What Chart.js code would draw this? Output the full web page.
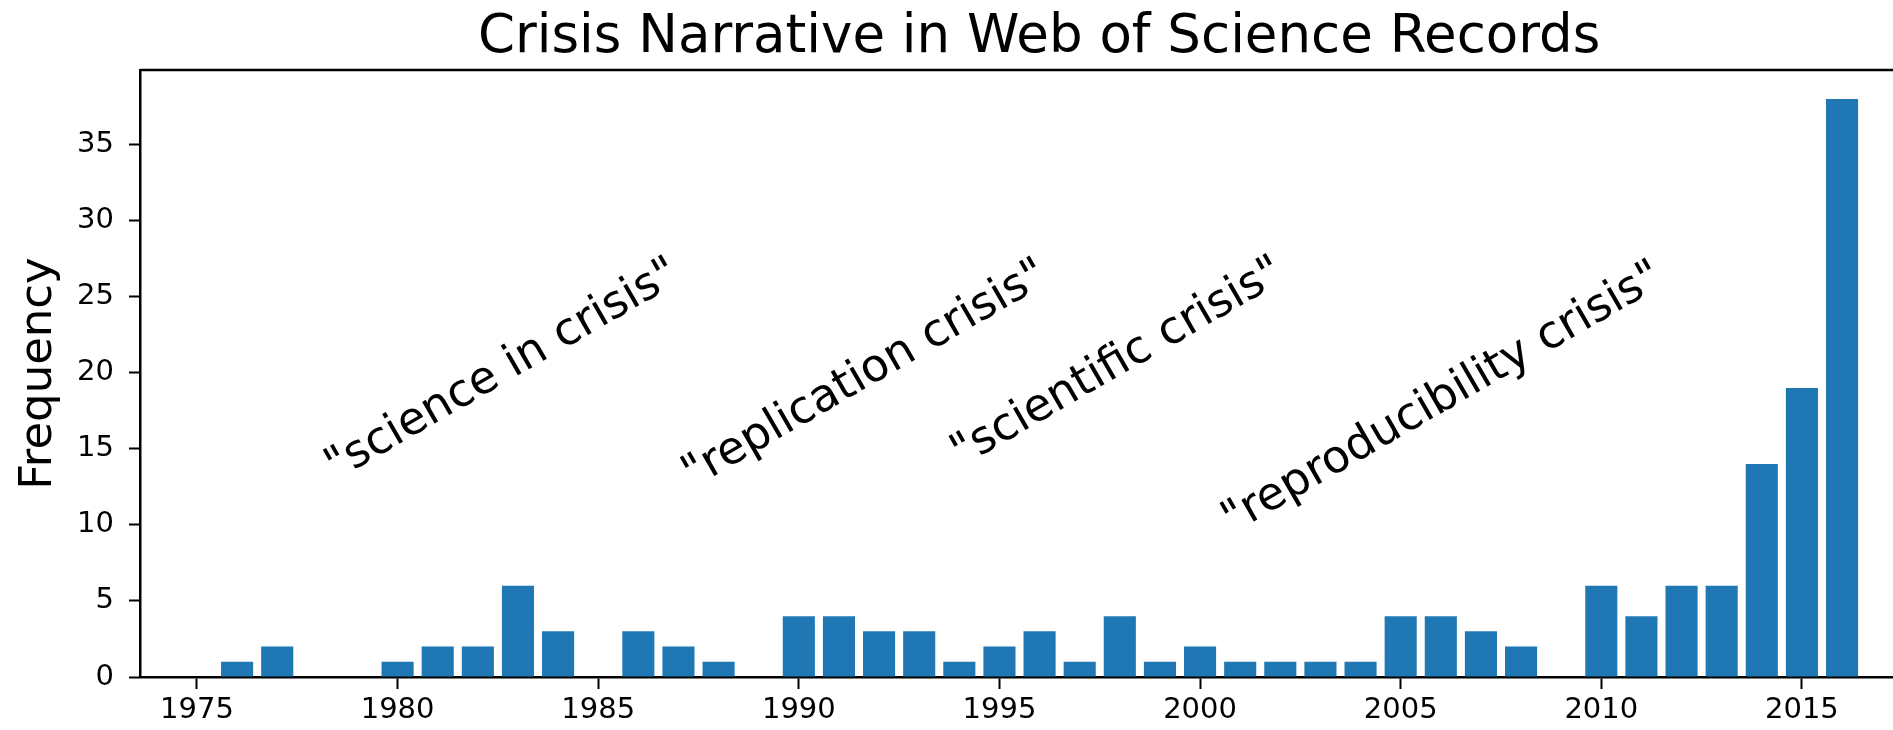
<!DOCTYPE html>
<html>
<head>
<meta charset="utf-8">
<title>Crisis Narrative in Web of Science Records</title>
<script src="https://cdn.jsdelivr.net/npm/chart.js@4.4.1/dist/chart.umd.min.js"></script>
<style>
    html, body { margin: 0; padding: 0; background: #fff; }
    #wrap { width: 1893px; height: 730px; }
</style>
</head>
<body>
<div id="wrap"><canvas id="crisisChart" width="1893" height="730"></canvas></div>
<script>
// Values
const years = [1976, 1977, 1978, 1979, 1980, 1981, 1982, 1983, 1984, 1985,
               1986, 1987, 1988, 1989, 1990, 1991, 1992, 1993, 1994, 1995,
               1996, 1997, 1998, 1999, 2000, 2001, 2002, 2003, 2004, 2005,
               2006, 2007, 2008, 2009, 2010, 2011, 2012, 2013, 2014, 2015, 2016];
const counts = [1, 2, 0, 0, 1, 2, 2, 6, 3, 0,
                3, 2, 1, 0, 4, 4, 3, 3, 1, 2,
                3, 1, 4, 1, 2, 1, 1, 1, 1, 4,
                4, 3, 2, 0, 6, 4, 6, 6, 14, 19, 38];
const xTicks = [1975, 1980, 1985, 1990, 1995, 2000, 2005, 2010, 2015];
const yTicks = [0, 5, 10, 15, 20, 25, 30, 35];

// Rotated phrases, anchored in data coordinates (year, frequency)
const phraseLabels = ['"science in crisis"', '"replication crisis"', '"scientific crisis"', '"reproducibility crisis"'];
const phraseYears = [1978.45, 1987.35, 1994.05, 2000.8];
const phraseValues = [12.9, 12.4, 13.8, 9.4];

const chartTitle = 'Crisis Narrative in Web of Science Records';

(() => {
    const FONT = 'DejaVu Sans';
    const INK = '#000';

    // x limits of the full axes (the right part is cut off by the picture)
    const xMin = 1973.58;
    const xMaxVisible = 2017.27;
    const xMaxFull = 2018.4;

    /**
     * Top spine + title centred over the whole axes
     */
    const framePlugin = {
        id: 'frame',
        afterDraw(chart) {
            const { ctx, chartArea, scales } = chart;
            ctx.save();
            ctx.strokeStyle = INK;
            ctx.lineWidth = 2.5;
            ctx.beginPath();
            ctx.moveTo(chartArea.left, chartArea.top);
            ctx.lineTo(chartArea.right, chartArea.top);
            ctx.stroke();

            const cx = scales.x.getPixelForValue((xMin + xMaxFull) / 2);
            ctx.fillStyle = INK;
            ctx.font = `53px "${FONT}"`;
            ctx.textAlign = 'center';
            ctx.textBaseline = 'alphabetic';
            ctx.fillText(chartTitle, cx, 52);
            ctx.restore();
        }
    };

    /**
     * Rotated phrases over the bars
     */
    const phrasePlugin = {
        id: 'phrases',
        afterDatasetsDraw(chart) {
            const { ctx, scales: { x, y } } = chart;
            ctx.save();
            ctx.fillStyle = INK;
            ctx.font = `45.5px "${FONT}"`;
            ctx.textAlign = 'left';
            ctx.textBaseline = 'alphabetic';
            phraseLabels.forEach((text, i) => {
                ctx.save();
                ctx.translate(x.getPixelForValue(phraseYears[i]), y.getPixelForValue(phraseValues[i]));
                ctx.rotate(-Math.PI / 6);
                ctx.fillText(text, 0, 0);
                ctx.restore();
            });
            ctx.restore();
        }
    };

    const ctx = document.getElementById('crisisChart');

    new Chart(ctx, {
        type: 'bar',
        data: {
            datasets: [{
                data: years.map((yr, i) => ({ x: yr, y: counts[i] })),
                backgroundColor: '#1f77b4',
                borderWidth: 0,
                barPercentage: 0.8,
                categoryPercentage: 1.0
            }]
        },
        options: {
            responsive: false,
            animation: false,
            layout: { padding: { top: 70, left: 0, right: 0, bottom: 0 } },
            scales: {
                x: {
                    type: 'linear',
                    min: xMin,
                    max: xMaxVisible,
                    offset: false,
                    z: 1,
                    afterBuildTicks: (scale) => {
                        scale.ticks = xTicks.map(v => ({ value: v }));
                    },
                    afterFit: (scale) => { scale.height = 53; },
                    grid: {
                        offset: false,
                        drawOnChartArea: false,
                        drawTicks: true,
                        tickLength: 12,
                        tickWidth: 2,
                        tickColor: INK
                    },
                    border: { display: true, color: INK, width: 2.5 },
                    ticks: {
                        color: INK,
                        padding: 4,
                        maxRotation: 0,
                        autoSkip: false,
                        font: { family: FONT, size: 29 },
                        callback: v => String(v)
                    }
                },
                y: {
                    min: 0,
                    max: 39.9,
                    z: 1,
                    afterBuildTicks: (scale) => {
                        scale.ticks = yTicks.map(v => ({ value: v }));
                    },
                    afterFit: (scale) => { scale.width = 140; },
                    grid: {
                        drawOnChartArea: false,
                        drawTicks: true,
                        tickLength: 11,
                        tickWidth: 2,
                        tickColor: INK
                    },
                    border: { display: true, color: INK, width: 2.5 },
                    ticks: {
                        color: INK,
                        padding: 15,
                        font: { family: FONT, size: 29 },
                        callback: v => String(v)
                    },
                    title: {
                        display: true,
                        text: 'Frequency',
                        color: INK,
                        font: { family: FONT, size: 45 },
                        padding: { top: 12, bottom: 0 }
                    }
                }
            },
            plugins: {
                legend: { display: false },
                tooltip: { enabled: false }
            }
        },
        plugins: [phrasePlugin, framePlugin]
    });
})();
</script>
</body>
</html>
